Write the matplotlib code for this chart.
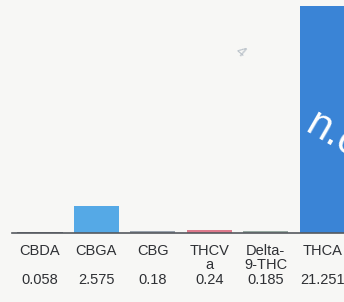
import matplotlib.pyplot as plt
from matplotlib.transforms import blended_transform_factory

# cannabinoid values (%), as printed under the chart
names = ['CBDA', 'CBGA', 'CBG', 'THCVa', 'Delta-9-THC', 'THCA']
tick_labels = ['CBDA', 'CBGA', 'CBG', 'THCV\na', 'Delta-\n9-THC', 'THCA']
values = [0.058, 2.575, 0.18, 0.24, 0.185, 21.251]
value_labels = ['0.058', '2.575', '0.18', '0.24', '0.185', '21.251']
bar_colors = ['#6f7680', '#55a9e6', '#9aa3ad', '#de7a8c', '#98aaa2', '#3a84d6']

plt.rcParams['font.family'] = ['Liberation Sans', 'DejaVu Sans']

fig = plt.figure(figsize=(3.44, 3.02), dpi=100, facecolor='#f7f7f5')
# the photo crops the chart: axes run past the right edge of the picture
ax = fig.add_axes([0.034, 0.2285, 0.985, 0.7715])
ax.set_facecolor('#f7f7f5')

x = list(range(len(values)))
ax.bar(x, values, width=0.8, color=bar_colors, edgecolor='none', zorder=2)
ax.set_xlim(-0.5, len(values) - 0.5)
ax.set_ylim(0, 21.85)

for s in ['top', 'right', 'left']:
    ax.spines[s].set_visible(False)
ax.spines['bottom'].set_color('#55595e')
ax.spines['bottom'].set_linewidth(1.2)
ax.set_yticks([])
ax.set_xticks(x)
ax.set_xticklabels(tick_labels, fontsize=10.5, color='#2e3034', linespacing=1.0)
ax.tick_params(axis='x', length=0, pad=8)

# value row under the category names
trans = blended_transform_factory(ax.transData, fig.transFigure)
for xi, lab in zip(x, value_labels):
    ax.text(xi, 0.0745, lab, transform=trans, ha='center', va='center',
            fontsize=10.5, color='#2e3034', clip_on=False)

# white lettering on the tall bar, mostly cut off by the crop
fig.text(0.882, 0.565, 'n.e', color='white', fontsize=30, rotation=-30,
         rotation_mode='anchor', ha='left', va='baseline')
# faint pencil mark
fig.text(0.70, 0.83, '4', color='#a9b3bd', fontsize=11, rotation=-40,
         ha='center', va='center', alpha=0.8)

plt.savefig('out.png', dpi=100, facecolor=fig.get_facecolor())
